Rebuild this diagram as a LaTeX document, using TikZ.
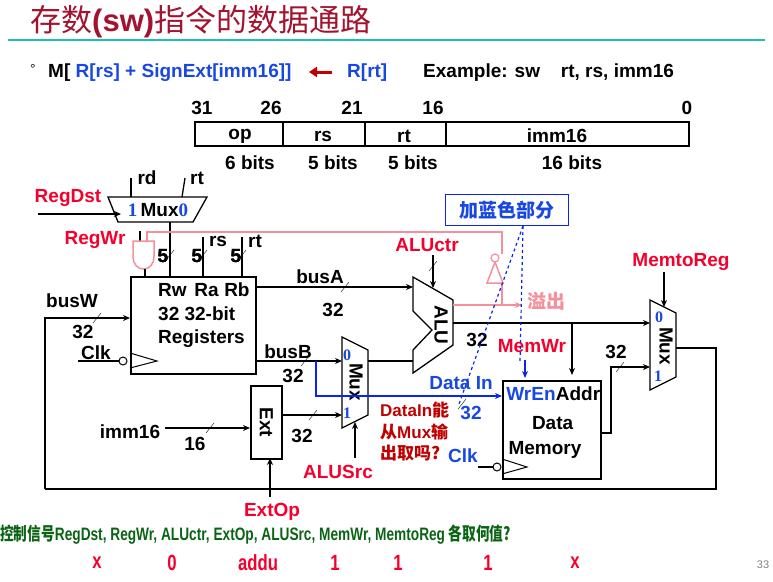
\documentclass[tikz,border=0pt]{standalone}
\usepackage{fontspec}
\setmainfont{Liberation Sans}
\newfontfamily\cjk{Noto Sans CJK SC}
\newfontfamily\narrow{Liberation Sans}[FakeStretch=0.76]
\newfontfamily\narrowcjk{Noto Sans CJK SC}[FakeStretch=0.76]
\usetikzlibrary{arrows.meta,positioning,calc}

\definecolor{titlered}{HTML}{A3122E}
\definecolor{rulecyan}{HTML}{1FBFB8}
\definecolor{sigred}{HTML}{F5002D}
\definecolor{ovfpink}{HTML}{F4909C}
\definecolor{wireblue}{HTML}{0A24F0}
\definecolor{txtblue}{HTML}{1848E0}
\definecolor{askred}{HTML}{C00000}
\definecolor{qgreen}{HTML}{0A6414}

\tikzset{
  lbl/.style={font=\fontsize{19}{21}\selectfont\bfseries, inner sep=0pt},
  sig/.style={lbl, text=sigred},
  num/.style={lbl, text=txtblue, font=\fontsize{16}{16}\selectfont\bfseries\fontspec{Liberation Serif}},
  wire/.style={line width=1.3pt},
  bus/.style={wire, -{Stealth[length=7pt,width=6pt]}},
  blk/.style={draw, line width=1.5pt, fill=white}
}
% small slash on a bus line
\newcommand{\busmark}[1]{\draw[thin] ($#1+(-4,5)$) -- ($#1+(4,-5)$);}

\begin{document}
\begin{tikzpicture}[x=1pt,y=-1pt]
  \useasboundingbox (0,0) rectangle (773,581);

  % Title and rule
  \node[anchor=west, inner sep=0pt, text=titlered, font=\fontsize{31}{33}\selectfont] (title) at (30,22)
    {{\cjk 存数}\textbf{(sw)}{\cjk 指令的数据通路}};
  \draw[rulecyan, line width=1.5pt] (8,40) -- (765,40);

  % RTL line
  \node[lbl, font=\fontsize{13}{13}\selectfont] (dot) at (33,69) {°};
  \node[lbl, anchor=west] (rtl) at (48,73)
    {M[ \textcolor{txtblue}{R[rs] + SignExt[imm16]]}};
  \node[lbl, anchor=west, text=txtblue] (rrt) at (347,73) {R[rt]};
  \draw[askred, line width=3pt, -{Triangle[length=8pt,width=10pt]}] (332,72) -- (309,72);
  \node[lbl, anchor=west] (ex) at (423,73) {Example: sw\hspace{1.1em}rt, rs, imm16};

  % Instruction format
  \draw[line width=1.5pt] (195,122) rectangle (689,146);
  \foreach \xx in {283,365,446} \draw[line width=1.5pt] (\xx,122) -- (\xx,146);
  \foreach \xx/\t in {202/31,271/26,352/21,433/16,687/0}
    \node[lbl] at (\xx,108) {\t};
  \foreach \xx/\t in {240/op,323/rs,404/rt,557/imm16}
    \node[lbl] at (\xx,136) {\t};
  \foreach \xx/\t in {250/6 bits,333/5 bits,413/5 bits,572/16 bits}
    \node[lbl] at (\xx,163) {\t};

  % RegDst mux
  \draw[wire] (108,197) -- (207,197) -- (193,222) -- (118,222) -- cycle;
  \node[lbl] (muxd) at (158,210) {\textcolor{txtblue}{\fontspec{Liberation Serif}1}\,Mux\textcolor{txtblue}{\fontspec{Liberation Serif}0}};
  \draw[wire] (131,178) -- (131,197);
  \draw[wire] (185,178) -- (182,197);
  \node[lbl] at (147,178) {rd};
  \node[lbl] at (197,178) {rt};
  \node[sig] (regdst) at (68,198) {RegDst};
  \draw[bus] (38,214) -- (121,214);

  % Register file
  \node[blk, minimum width=125pt, minimum height=97pt, anchor=north west] (rf) at (130,276) {};
  \node[lbl, align=left, anchor=north west, font=\fontsize{19}{23.5}\selectfont\bfseries] at (158,283)
    {Rw\hspace{0.4em}Ra\hspace{0.3em}Rb\\32 32-bit\\Registers};
  \draw[wire] (170,222) -- (170,276);
  \draw[wire] (203,237) -- (203,276);
  \draw[wire] (242,237) -- (242,276);
  \foreach \xx in {170,203,242} \busmark{(\xx,255)}
  \foreach \xx in {163,197,236} \node[lbl] at (\xx,256) {5};
  \node[lbl] at (218,241) {rs};
  \node[lbl] at (255,241) {rt};
  \draw[line width=1pt] (130,353) -- (157,361) -- (130,368);
  \draw[wire] (78,361) -- (119,361);
  \draw[line width=1pt, fill=white] (123,361) circle (4);
  \node[lbl] at (96,353) {Clk};

  % RegWr gate
  \node[sig] (regwr) at (95,240) {RegWr};
  \draw[wire] (140,231) -- (140,241);
  \draw[ovfpink, line width=1.5pt, fill=white] (133,241) -- (154,241) -- (154,256)
    .. controls (154,265) and (149,269) .. (143.5,269) .. controls (138,269) and (133,265) .. (133,256) -- cycle;
  \draw[wire] (145,269) -- (145,276);
  \draw[ovfpink, line width=1.5pt] (147,241) -- (147,232) -- (502,232) -- (502,254);

  % busW
  \draw[bus] (45,489) -- (45,318) -- (130,318);
  \busmark{(97,318)}
  \node[lbl] at (72,301) {busW};
  \node[lbl] at (83,332) {32};

  % busA
  \draw[bus] (255,287) -- (413,287);
  \busmark{(345,287)}
  \node[lbl] at (320,277) {busA};
  \node[lbl] at (333,310) {32};

  % ALUSrc mux
  \draw[wire, fill=white] (342,337) -- (368,350) -- (368,415) -- (342,428) -- cycle;
  \node[lbl, rotate=-90] at (356,382) {Mux};
  \node[num] at (347,355) {0};
  \node[num] at (347,413) {1};

  % busB and Data In
  \draw[bus] (255,361) -- (342,361);
  \busmark{(305,361)}
  \node[lbl] at (288,352) {busB};
  \node[lbl] at (293,376) {32};
  \draw[wireblue, line width=1.5pt, -{Stealth[length=7pt,width=6pt]}] (316,361) -- (316,396) -- (502,396);
  \busmark{(462,404)}
  \node[lbl, text=txtblue] at (461,383) {Data In};
  \node[lbl, text=txtblue] at (471,413) {32};

  % Ext unit
  \node[blk, minimum width=31pt, minimum height=73pt, anchor=north west] (ext) at (250,385) {};
  \node[lbl, rotate=-90] at (ext.center) {Ext};
  \draw[bus] (165,428) -- (250,428);
  \busmark{(210,428)}
  \node[lbl] at (130,432) {imm16};
  \node[lbl] at (195,444) {16};
  \draw[bus] (281,415) -- (342,415);
  \busmark{(313,415)}
  \node[lbl] at (302,436) {32};
  \draw[bus] (355,458) -- (355,422);
  \node[sig] (alusrc) at (338,472) {ALUSrc};
  \draw[bus] (270,497) -- (270,458);
  \node[sig] (extop) at (272,512) {ExtOp};

  % ALU
  \draw[wire, fill=white] (413,277) -- (453,300) -- (453,345) -- (413,373) -- (413,350)
    -- (432,330) -- (413,311) -- cycle;
  \draw[wire] (368,361) -- (413,361);
  \node[lbl, rotate=-90] at (441,325) {ALU};
  \node[sig] (aluctr) at (427,245) {ALUctr};
  \draw[bus] (433,255) -- (433,288);
  \busmark{(433,266)}

  % Overflow
  \draw[ovfpink, line width=1.5pt, fill=white] (487,283) -- (503,283) -- (495,262) -- cycle;
  \draw[ovfpink, line width=1.2pt, fill=white] (495,258) circle (4);
  \draw[ovfpink, line width=1.5pt, -{Stealth[length=7pt,width=6pt]}] (453,305) -- (522,305);
  \draw[ovfpink, line width=1.5pt] (502,283) -- (502,305);
  \node[lbl, text=ovfpink, font=\fontsize{19}{21}\selectfont\cjk\bfseries] at (546,301) {溢出};

  % ALU result
  \draw[bus] (453,323) -- (650,323);
  \draw[bus] (572,323) -- (572,375);
  \node[lbl] at (477,340) {32};

  % Data memory
  \node[blk, minimum width=98pt, minimum height=98pt, anchor=north west] (dm) at (502,380) {};
  \node[lbl, text=txtblue] at (531,394) {WrEn};
  \node[lbl] at (578,394) {Addr};
  \node[lbl, align=center, font=\fontsize{19}{25}\selectfont\bfseries] at (545,437) {\hspace{0.8em}Data\\Memory};
  \draw[line width=1pt] (502,459) -- (527,467) -- (502,474);
  \draw[wire] (478,467) -- (493,467);
  \draw[line width=1pt, fill=white] (497,467) circle (4);
  \node[lbl, text=txtblue] at (463,456) {Clk};
  \node[sig] (memwr) at (532,346) {MemWr};
  \draw[wireblue, line width=1.5pt, -{Stealth[length=7pt,width=6pt]}] (525,360) -- (525,378);
  \node[lbl, text=askred, align=left, anchor=north west, font=\fontsize{17}{21.5}\selectfont\bfseries] (ask) at (380,402)
    {DataIn{\cjk 能}\\{\cjk 从}Mux{\cjk 输}\\{\cjk 出取吗?}};

  % Blue note
  \node[draw=wireblue, line width=1pt, text=txtblue, font=\fontsize{19}{21}\selectfont\cjk\bfseries,
    minimum width=123pt, minimum height=31pt] (note) at (507,210) {加蓝色部分};
  \draw[wireblue, line width=1.2pt, dashed] (523,226) -- (459,404);
  \draw[wireblue, line width=1.2pt, dashed] (523,226) -- (520,362);

  % MemtoReg mux
  \draw[wire, fill=white] (650,300) -- (676,313) -- (676,377) -- (650,390) -- cycle;
  \node[lbl, rotate=-90] at (666,346) {Mux};
  \node[num] at (659,317) {0};
  \node[num] at (658,376) {1};
  \node[sig] (memtoreg) at (681,262) {MemtoReg};
  \draw[bus] (664,272) -- (664,307);
  \draw[bus] (600,433) -- (611,433) -- (611,367) -- (650,367);
  \busmark{(620,367)}
  \node[lbl] at (616,352) {32};
  \draw[wire] (676,348) -- (716,348) -- (716,489) -- (45,489);

  % Question and answers
  \node[lbl, anchor=west, text=qgreen, font=\fontsize{18}{20}\selectfont\bfseries\narrow] (q) at (0,535)
    {{\narrowcjk 控制信号}RegDst, RegWr, ALUctr, ExtOp, ALUSrc, MemWr, MemtoReg {\narrowcjk 各取何值?}};
  \foreach \xx/\t in {97/x,172/0,258/addu,335/1,398/1,488/1,575/x}
    \node[lbl, text=sigred, font=\fontsize{22}{22}\selectfont\bfseries\narrow] at (\xx,563) {\t};
  \node[inner sep=0pt, text=gray, font=\fontsize{11}{11}\selectfont] at (763,565) {33};
\end{tikzpicture}
\end{document}
